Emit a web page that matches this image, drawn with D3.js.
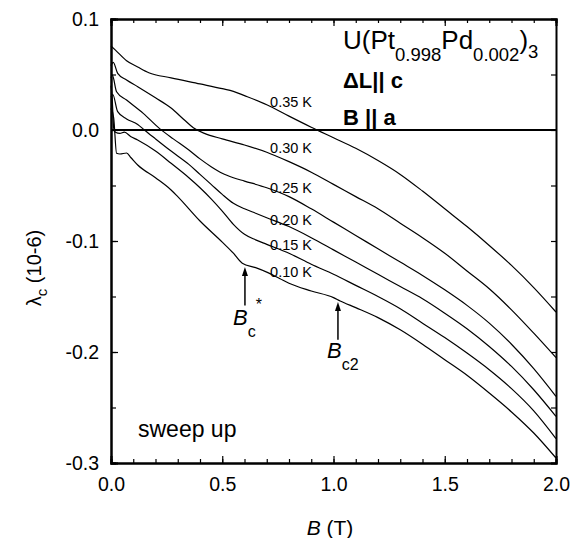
<!DOCTYPE html>
<html><head><meta charset="utf-8">
<script src="https://cdn.jsdelivr.net/npm/d3@7"></script>
<style>
html,body{margin:0;padding:0;background:#fff;}
svg{display:block;font-family:"Liberation Sans",Arial,Helvetica,sans-serif;}
</style></head>
<body><svg id="chart" width="586" height="538"></svg>
<script>
// ---- data ----
const temps = ["0.35 K","0.30 K","0.25 K","0.20 K","0.15 K","0.10 K"];
const b35 = [0,0.02,0.07,0.12,0.17,0.27,0.40,0.50,0.55,0.60,0.70,0.80,0.90,1.00,1.10,1.20,1.30,1.40,1.50,1.60,1.70,1.80,1.90,2.00];
const v35 = [0.0757,0.072,0.0624,0.0568,0.0516,0.047,0.0415,0.0372,0.0348,0.031,0.0228,0.0125,0.0025,-0.0070,-0.0165,-0.0275,-0.040,-0.055,-0.071,-0.087,-0.104,-0.122,-0.142,-0.164];
const b30 = [0,0.01,0.03,0.07,0.12,0.2,0.27,0.33,0.37,0.42,0.5,0.6,0.7,0.8,0.9,1.0,1.1,1.2,1.3,1.4,1.5,1.6,1.7,1.8,1.9,2.0];
const v30 = [0.058,0.061,0.051,0.045,0.039,0.029,0.0198,0.009,0.002,-0.003,-0.008,-0.0135,-0.0200,-0.0285,-0.038,-0.049,-0.060,-0.071,-0.084,-0.097,-0.111,-0.127,-0.143,-0.162,-0.183,-0.205];
const b25 = [0,0.006,0.025,0.07,0.145,0.22,0.28,0.35,0.40,0.45,0.5,0.55,0.6,0.7,0.8,0.9,1.0,1.1,1.2,1.3,1.4,1.5,1.6,1.7,1.8,1.9,2.0];
const v25 = [0.047,0.0495,0.0345,0.027,0.015,0.001,-0.008,-0.018,-0.026,-0.033,-0.039,-0.043,-0.046,-0.052,-0.060,-0.071,-0.083,-0.095,-0.107,-0.119,-0.131,-0.144,-0.158,-0.174,-0.193,-0.215,-0.240];
const b20 = [0,0.008,0.03,0.07,0.12,0.15,0.2,0.27,0.35,0.40,0.45,0.5,0.55,0.6,0.65,0.7,0.8,0.9,1.0,1.1,1.2,1.3,1.4,1.5,1.6,1.7,1.8,1.9,2.0];
const v20 = [0.030,0.032,0.0165,0.010,0.005,0.0,-0.008,-0.019,-0.031,-0.040,-0.049,-0.058,-0.066,-0.071,-0.075,-0.079,-0.087,-0.097,-0.108,-0.119,-0.130,-0.141,-0.152,-0.165,-0.179,-0.195,-0.213,-0.234,-0.258];
const b15 = [0,0.005,0.012,0.02,0.04,0.06,0.09,0.12,0.2,0.27,0.35,0.4,0.45,0.5,0.55,0.6,0.65,0.7,0.8,0.9,1.0,1.1,1.2,1.3,1.4,1.5,1.6,1.7,1.8,1.9,2.0];
const v15 = [0.040,0.030,0.002,-0.002,-0.003,-0.002,-0.006,-0.009,-0.019,-0.030,-0.043,-0.052,-0.062,-0.073,-0.085,-0.094,-0.099,-0.103,-0.111,-0.121,-0.130,-0.140,-0.150,-0.161,-0.174,-0.187,-0.201,-0.216,-0.233,-0.253,-0.278];
const b10 = [0,0.012,0.025,0.04,0.07,0.09,0.12,0.2,0.27,0.3,0.4,0.5,0.55,0.59,0.65,0.7,0.76,0.8,0.9,1.0,1.03,1.1,1.2,1.3,1.4,1.5,1.6,1.7,1.8,1.9,2.0];
const v10 = [0.0195,0.011,-0.021,-0.0216,-0.0207,-0.025,-0.0315,-0.043,-0.054,-0.060,-0.082,-0.101,-0.111,-0.120,-0.124,-0.128,-0.134,-0.138,-0.145,-0.151,-0.154,-0.160,-0.169,-0.180,-0.193,-0.207,-0.221,-0.237,-0.254,-0.273,-0.2955];
const seriesB = [b35,b30,b25,b20,b15,b10];
const seriesV = [v35,v30,v25,v20,v15,v10];
const xTicks = [0,0.5,1.0,1.5,2.0];
const xTickLabels = ["0.0","0.5","1.0","1.5","2.0"];
const yTicks = [0.1,0.0,-0.1,-0.2,-0.3];
const yTickLabels = ["0.1","0.0","-0.1","-0.2","-0.3"];
// label anchors (data units) for the temperature labels
const labelB = [0.715,0.715,0.715,0.715,0.715,0.715];
const labelV = [0.0207,-0.0207,-0.0568,-0.0856,-0.108,-0.1324];
// field markers: B position, arrow base, arrow tip
const arrowB = [0.602, 1.02];
const arrowBase = [-0.158, -0.189];
const arrowTip = [-0.1234, -0.155];

// ---- layout ----
const svg = d3.select("#chart");
const x = d3.scaleLinear().domain([0,2]).range([111,556]);
const y = d3.scaleLinear().domain([-0.3,0.1]).range([463,19]);
const g = svg.append("g");

// curves
const line = d3.line().x(d=>x(d[0])).y(d=>y(d[1])).curve(d3.curveMonotoneX);
seriesB.forEach((bs,i)=>{
  const pts = bs.map((b,j)=>[b, seriesV[i][j]]);
  g.append("path").attr("d", line(pts)).attr("fill","none")
    .attr("stroke","#000").attr("stroke-width",1.2);
});

// zero line
g.append("line").attr("x1",x(0)).attr("x2",x(2)).attr("y1",y(0)).attr("y2",y(0))
  .attr("stroke","#000").attr("stroke-width",2);

// axes with inward ticks
const xMinor = d3.range(0,2.0001,0.1);
const yMinor = d3.range(-0.3,0.1001,0.05);
const axBottom = g.append("g").attr("transform",`translate(0,${y(-0.3)})`)
  .call(d3.axisBottom(x).tickValues(xMinor).tickSize(-4).tickFormat(""));
const axBottomMaj = g.append("g").attr("transform",`translate(0,${y(-0.3)})`)
  .call(d3.axisBottom(x).tickValues(xTicks).tickSize(-7).tickPadding(14).tickFormat((d,i)=>xTickLabels[i]));
const axTop = g.append("g").attr("transform",`translate(0,${y(0.1)})`)
  .call(d3.axisTop(x).tickValues(xMinor).tickSize(-4).tickFormat(""));
const axTopMaj = g.append("g").attr("transform",`translate(0,${y(0.1)})`)
  .call(d3.axisTop(x).tickValues(xTicks).tickSize(-7).tickFormat(""));
const axLeft = g.append("g").attr("transform",`translate(${x(0)},0)`)
  .call(d3.axisLeft(y).tickValues(yMinor).tickSize(-5).tickFormat(""));
const axLeftMaj = g.append("g").attr("transform",`translate(${x(0)},0)`)
  .call(d3.axisLeft(y).tickValues(yTicks).tickSize(-7).tickPadding(12).tickFormat((d,i)=>yTickLabels[i]));
const axRight = g.append("g").attr("transform",`translate(${x(2)},0)`)
  .call(d3.axisRight(y).tickValues(yMinor).tickSize(-5).tickFormat(""));
[axBottom,axBottomMaj,axTop,axTopMaj,axLeft,axLeftMaj,axRight].forEach(a=>{
  a.select(".domain").attr("stroke-width",2).attr("stroke","#000");
  a.selectAll(".tick line").attr("stroke","#000").attr("stroke-width",1.2);
  a.selectAll("text").attr("font-family","Liberation Sans, Arial, sans-serif")
    .attr("font-size",19.5).attr("fill","#000");
});

// axis titles
const xt = svg.append("text").attr("x",330).attr("y",535).attr("text-anchor","middle")
  .attr("font-size",21);
xt.append("tspan").attr("font-style","italic").text("B");
xt.append("tspan").text(" (T)");
const yt = svg.append("text").attr("transform","translate(41,268) rotate(-90)")
  .attr("text-anchor","middle").attr("font-size",20);
yt.append("tspan").text("λ");
yt.append("tspan").attr("font-size",15).attr("dy",6).text("c");
yt.append("tspan").attr("dy",-6).text(" (10-6)");

// temperature labels
temps.forEach((t,i)=>{
  svg.append("text").attr("x",x(labelB[i])).attr("y",y(labelV[i]))
    .attr("font-size",14.5).text(t);
});

// title block
const tt = svg.append("text").attr("x",343).attr("y",49).attr("font-size",26);
tt.append("tspan").text("U(Pt");
tt.append("tspan").attr("font-size",18.5).attr("dy",12).text("0.998");
tt.append("tspan").attr("dy",-12).text("Pd");
tt.append("tspan").attr("font-size",18.5).attr("dy",12).text("0.002");
tt.append("tspan").attr("dy",-12).text(")");
tt.append("tspan").attr("font-size",18.5).attr("dy",9).text("3");
svg.append("text").attr("x",343).attr("y",88).attr("font-size",22).attr("font-weight","bold").text("ΔL|| c");
svg.append("text").attr("x",343).attr("y",125).attr("font-size",22).attr("font-weight","bold").text("B || a");

// sweep up
svg.append("text").attr("x",138).attr("y",437).attr("font-size",23).text("sweep up");

// arrows
arrowB.forEach((b,i)=>{
  const xa = x(b), y0 = y(arrowBase[i]), y1 = y(arrowTip[i]);
  svg.append("line").attr("x1",xa).attr("x2",xa).attr("y1",y0).attr("y2",y1+6)
    .attr("stroke","#000").attr("stroke-width",1.5);
  svg.append("path").attr("d",`M${xa},${y1} L${xa-3},${y1+9} L${xa+3},${y1+9} Z`).attr("fill","#000");
});
// B_c* label
const l1 = svg.append("text").attr("x",x(arrowB[0])-12).attr("y",y(arrowBase[0])+20).attr("font-size",22);
l1.append("tspan").attr("font-style","italic").text("B");
l1.append("tspan").attr("font-size",16).attr("dy",12).text("c");
l1.append("tspan").attr("font-size",16).attr("dy",-27).text("*");
// B_c2 label
const l2 = svg.append("text").attr("x",x(arrowB[1])-11).attr("y",y(arrowBase[1])+18).attr("font-size",22);
l2.append("tspan").attr("font-style","italic").text("B");
l2.append("tspan").attr("font-size",16).attr("dy",12).text("c2");
</script></body></html>
